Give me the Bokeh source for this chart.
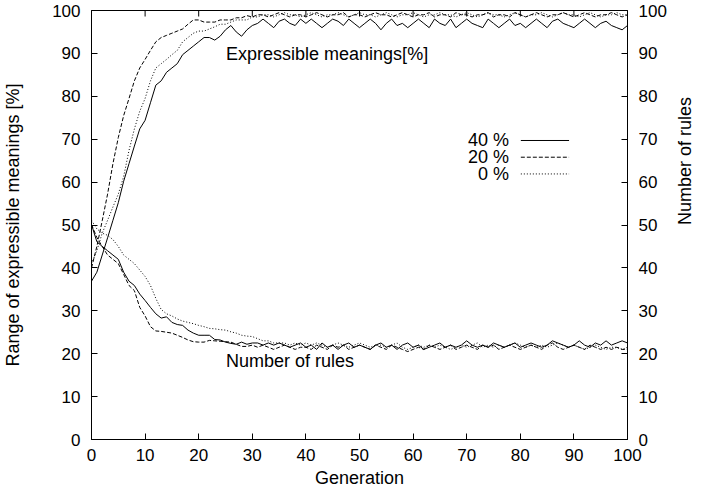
from bokeh.plotting import figure
from bokeh.models import Range1d, LinearAxis, FixedTicker, Label
from bokeh.embed import file_html
from bokeh.resources import INLINE

generations = list(range(0, 101))

expr_40 = [36.9, 39, 43, 47, 51.1, 55.2, 60.2, 64.3, 68.4, 72.4,
           74.4, 78.5, 82.6, 83.6, 85.6, 86.6, 87.6, 89.7, 90.7, 91.7,
           92.7, 93.7, 93.7, 93.1, 94, 95.5, 96.5, 95, 94, 95.5,
           96.5, 97, 98, 97, 96, 97.5, 98, 97, 96.5, 98,
           97, 98, 97, 96, 97, 98, 97.5, 96.5, 98, 97,
           96, 97, 98, 97, 95.5, 97, 98, 96.5, 97, 96,
           97, 98, 97, 96, 98, 97, 96.5, 98, 96, 97,
           98, 97, 96.5, 96, 98, 97, 96, 97, 98, 96.5,
           97, 96, 97, 98, 97, 96, 97.5, 98, 97, 96.5,
           96, 97, 98, 97, 96, 97, 97.5, 96.5, 96, 95.5, 96.5]
expr_20 = [40, 45, 51, 57.2, 64.3, 70.4, 75.5, 79.5, 83.6, 86.6,
           88.6, 90.7, 92.7, 93.7, 94.2, 94.7, 95.2, 95.7, 96.8, 97.8,
           97.8, 97.3, 97.3, 97.3, 97.8, 97.8, 97.8, 98.3, 98.3, 98.8,
           98.5, 99, 99, 98.5, 99, 99.5, 99, 98.5, 99, 99,
           98.5, 99, 99.5, 99, 98.5, 99, 99, 99.5, 98.5, 99,
           99, 98.5, 99, 99.5, 99, 99, 98.5, 99, 99.5, 99,
           98.5, 99, 99, 99.5, 98.5, 99, 99, 98.5, 99.5, 99,
           99, 98.5, 99, 99, 99.5, 98.5, 99, 99, 98.5, 99.5,
           99, 98.5, 99, 99.5, 99, 98.5, 99, 99, 99.5, 99,
           98.5, 99, 99.5, 99, 98.5, 99, 99, 99.5, 99, 98.5, 99]
expr_0 = [41, 44, 48.1, 51.1, 54.2, 57.2, 61.3, 67.4, 72.4, 76.5,
          79.5, 83.6, 86.6, 87.6, 88.6, 89.7, 90.7, 92.7, 93.7, 94.7,
          95.2, 95.2, 95.7, 96.2, 96.8, 96.8, 97.3, 97.8, 97.8, 97.8,
          98.5, 98.5, 99, 99, 98.5, 99, 99.5, 99, 99, 98.5,
          99, 99.5, 99, 98.5, 99, 99, 99.5, 99, 98.5, 99,
          99.5, 99, 99, 98.5, 99, 99.5, 99, 98.5, 99, 99,
          99.5, 99, 98.5, 99, 99, 99.5, 99, 99, 98.5, 99,
          99.5, 99, 98.5, 99, 99.5, 99, 99, 98.5, 99, 99.5,
          99, 98.5, 99, 99, 99.5, 99, 98.5, 99, 99.5, 99,
          99, 98.5, 99, 99.5, 99, 98.5, 99, 99, 99.5, 99, 99]

rules_40 = [50.1, 46.1, 45, 44, 43, 42, 39, 36.9, 35.9, 33.9,
            32.4, 30.8, 29.3, 28.3, 28.6, 27.3, 26.8, 26.6, 25.5, 24.8,
            24.3, 24.3, 24.3, 23.3, 23.2, 22.7, 22.4, 22.2, 22.7, 22.2,
            22.5, 22.5, 22, 22.5, 22, 22.5, 22, 21.5, 22, 22.5,
            21.5, 22, 21, 22.5, 21.5, 22, 21, 22, 22.5, 21.5,
            22, 21.5, 21, 22, 22.5, 21.5, 22, 21, 22, 22.5,
            21.5, 22, 21, 21.5, 22, 22.5, 21.5, 22, 21.5, 22,
            23, 22, 21.5, 22, 21.5, 22.5, 22, 21.5, 22, 22.5,
            21.5, 22, 22.5, 22, 21.5, 22, 23, 22.5, 22, 21.5,
            22, 23, 22, 21.5, 22.5, 22, 23, 22, 22.5, 23, 22.5]
rules_20 = [50.1, 47.1, 45, 43, 42, 41, 38.5, 35.9, 34.7, 30.8,
            28.8, 26.3, 25.3, 25.2, 25, 24.8, 24.3, 23.8, 23.2, 22.8,
            22.7, 22.7, 23.1, 23, 22.9, 22.8, 22.7, 22.2, 21.7, 21.7,
            22, 21.5, 22, 21.5, 21, 21.5, 22, 21.5, 21, 21.5,
            21.5, 21, 22, 21.5, 21, 22, 21.5, 22, 21, 21.5,
            22, 21.5, 21, 22, 21.5, 21, 22, 21.5, 21, 20.5,
            21, 21.5, 21, 22, 21.5, 21, 21.5, 22, 21, 21.5,
            22, 21.5, 21, 22, 21.5, 22, 21, 21.5, 22, 21.5,
            21, 21.5, 22, 21.5, 21, 22, 22.5, 21.5, 21, 21.5,
            22, 21.5, 21, 22, 21.5, 21, 21.5, 21, 21.5, 21, 21]
rules_0 = [51.1, 49.1, 48.1, 47.6, 46.6, 45, 43, 42, 41, 39.5,
           38, 35.9, 32.9, 30.3, 29.3, 28.8, 28.1, 27.6, 27.3, 27,
           26.6, 26.3, 25.9, 25.8, 25.6, 25.5, 25.1, 24.8, 24.3, 24.1,
           24, 23.5, 23, 23, 22.5, 22.5, 22.5, 22, 22.5, 22,
           22.5, 22, 22.5, 22, 21.5, 22, 22.5, 22, 21.5, 22,
           22.5, 22, 21.5, 22, 22, 21.5, 22, 22.5, 21.5, 21,
           21.5, 22, 21.5, 22, 21.5, 22, 21.5, 21, 21.5, 22,
           21.5, 22, 22.5, 21.5, 22, 21.5, 22, 21.5, 22, 22.5,
           22, 21.5, 22, 21.5, 22, 21.5, 22, 22.5, 22, 21.5,
           22, 21.5, 21, 21.5, 22, 21.5, 21, 21.5, 21.5, 21, 21.5]

legend_labels = ["40 %", "20 %", "0 %"]
tick_values = list(range(0, 101, 10))

FONT = "Liberation Sans"
TICK_FS = "17px"
FS = "18px"

p = figure(width=707, height=495, output_backend="svg", toolbar_location=None,
           x_range=Range1d(0, 100), y_range=Range1d(0, 100),
           min_border_left=88, min_border_right=77, min_border_top=10, min_border_bottom=56)
p.grid.visible = False
p.outline_line_color = "black"
p.outline_line_width = 1
p.background_fill_color = "white"
p.border_fill_color = "white"

bottom_axis = p.below[0]
left_axis = p.left[0]
right_axis = LinearAxis()
p.add_layout(right_axis, "right")

for ax in [bottom_axis, left_axis, right_axis]:
    ax.ticker = FixedTicker(ticks=tick_values)
    ax.major_tick_in = 6
    ax.major_tick_out = 0
    ax.minor_tick_line_color = None
    ax.major_tick_line_color = "black"
    ax.axis_line_color = "black"
    ax.major_label_text_font = FONT
    ax.major_label_text_font_size = TICK_FS
    ax.major_label_text_color = "black"
    ax.axis_label_text_font = FONT
    ax.axis_label_text_font_size = FS
    ax.axis_label_text_font_style = "normal"
    ax.axis_label_text_color = "black"

bottom_axis.axis_label = "Generation"
bottom_axis.major_label_standoff = 9
bottom_axis.axis_label_standoff = 4
left_axis.axis_label = "Range of expressible meanings [%]"
left_axis.major_label_standoff = 11
left_axis.axis_label_standoff = 26
right_axis.axis_label = "Number of rules"
right_axis.major_label_standoff = 11
right_axis.axis_label_standoff = 15
right_axis.axis_label_orientation = 1.5707963

# inward tick marks along the top edge, at the same tick values
top_len = 6 / 4.29
p.segment(x0=tick_values, y0=[100] * len(tick_values), x1=tick_values,
          y1=[100 - top_len] * len(tick_values), line_color="black", line_width=1)

series = [(expr_40, rules_40, "solid"), (expr_20, rules_20, "4 2"), (expr_0, rules_0, "1 2")]
for e, r, dash in series:
    p.line(generations, e, line_color="black", line_width=1, line_dash=dash)
    p.line(generations, r, line_color="black", line_width=1, line_dash=dash)

legend_y = [69.7, 65.8, 61.9]
for lab, ly, (_, _, dash) in zip(legend_labels, legend_y, series):
    p.add_layout(Label(x=77.9, y=ly, text=lab, text_align="right", text_baseline="middle",
                       text_font=FONT, text_font_size=FS, text_color="black"))
    p.segment(x0=[80.1], y0=[ly], x1=[89.1], y1=[ly], line_color="black", line_width=1, line_dash=dash)

p.add_layout(Label(x=25.1, y=89.8, text="Expressible meanings[%]", text_align="left", text_baseline="middle",
                   text_font=FONT, text_font_size=FS, text_color="black"))
p.add_layout(Label(x=25.1, y=18.2, text="Number of rules", text_align="left", text_baseline="middle",
                   text_font=FONT, text_font_size=FS, text_color="black"))

open("out.html", "w").write(file_html(p, INLINE))
